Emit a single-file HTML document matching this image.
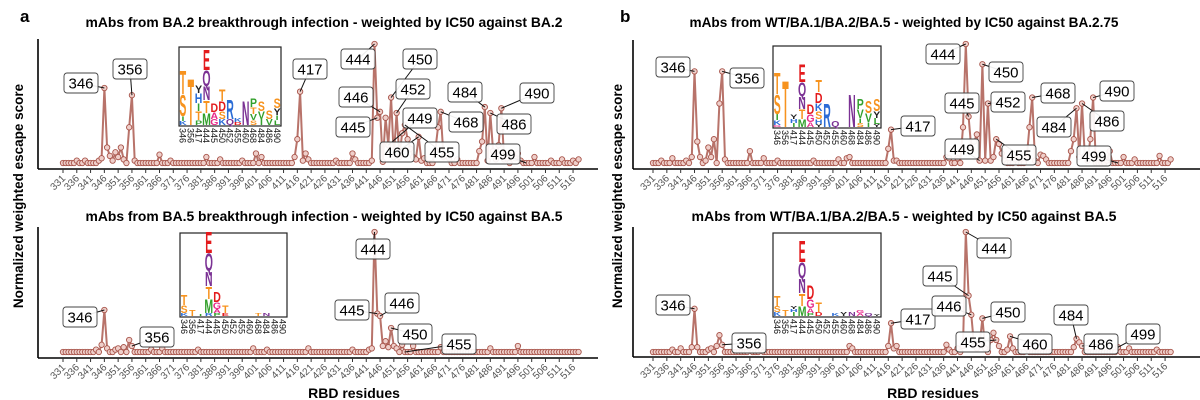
<!DOCTYPE html>
<html><head><meta charset="utf-8">
<style>
html,body{margin:0;padding:0;background:#fff;}
svg{display:block;font-family:"Liberation Sans",Arial,sans-serif;}
</style></head>
<body>
<svg id="fig" width="1200" height="400" viewBox="0 0 1200 400" xmlns="http://www.w3.org/2000/svg">
  <text x="20" y="22" font-size="17" font-weight="bold">a</text>
  <text x="620" y="22" font-size="17" font-weight="bold">b</text>
  <text x="324" y="27" font-size="13.5" font-weight="bold" text-anchor="middle" textLength="477" lengthAdjust="spacingAndGlyphs">mAbs from BA.2 breakthrough infection - weighted by IC50 against BA.2</text>
  <text x="324" y="221" font-size="13.5" font-weight="bold" text-anchor="middle" textLength="477" lengthAdjust="spacingAndGlyphs">mAbs from BA.5 breakthrough infection - weighted by IC50 against BA.5</text>
  <text x="904" y="27" font-size="13.5" font-weight="bold" text-anchor="middle" textLength="429" lengthAdjust="spacingAndGlyphs">mAbs from WT/BA.1/BA.2/BA.5 - weighted by IC50 against BA.2.75</text>
  <text x="904" y="221" font-size="13.5" font-weight="bold" text-anchor="middle" textLength="425" lengthAdjust="spacingAndGlyphs">mAbs from WT/BA.1/BA.2/BA.5 - weighted by IC50 against BA.5</text>
  <text transform="translate(23,196) rotate(-90)" font-size="13.5" font-weight="bold" text-anchor="middle">Normalized weighted escape score</text>
  <text transform="translate(622,196) rotate(-90)" font-size="13.5" font-weight="bold" text-anchor="middle">Normalized weighted escape score</text>
  <text x="354" y="398" font-size="14" font-weight="bold" text-anchor="middle">RBD residues</text>
  <text x="933" y="398" font-size="14" font-weight="bold" text-anchor="middle">RBD residues</text>
</svg>
<script>
// ---- data ----
const tickResidues = [];
for (let r = 331; r <= 516; r += 5) tickResidues.push(r);
const firstResidue = 331, lastResidue = 518;

const resA1 = [336,339,344,345,346,347,348,349,350,351,352,353,355,356,357,366,370,383,388,396,401,403,415,416,417,418,419,420,430,436,437,443,444,445,446,447,448,449,450,451,452,453,454,455,456,457,458,459,460,461,462,466,467,468,469,470,471,474,482,483,484,485,486,487,488,489,490,491,492,494,495,496,497,502,508,512,516,518];
const valA1 = [0.02,0.02,0.02,0.04,0.63,0.13,0.06,0.02,0.09,0.05,0.13,0.03,0.3,0.57,0.02,0.07,0.02,0.05,0.03,0.02,0.08,0.05,0.05,0.2,0.6,0.02,0.08,0.03,0.02,0.08,0.03,0.02,1.0,0.38,0.43,0.01,0.38,0.15,0.55,0.05,0.42,0.05,0.25,0.32,0.2,0.12,0.05,0.03,0.22,0.02,0.04,0.1,0.3,0.43,0.05,0.06,0.04,0.03,0.1,0.18,0.47,0.02,0.42,0.1,0.03,0.15,0.46,0.03,0.04,0.07,0.04,0.08,0.02,0.05,0.02,0.03,0.02,0.03];

const resA2 = [343,345,346,347,350,351,353,355,356,363,367,380,400,405,420,436,442,443,444,445,446,447,448,449,450,451,452,454,458,468,486,496];
const valA2 = [0.02,0.06,0.35,0.03,0.02,0.03,0.04,0.1,0.05,0.02,0.03,0.02,0.03,0.02,0.03,0.02,0.02,0.03,1.0,0.32,0.3,0.05,0.09,0.04,0.2,0.05,0.03,0.06,0.05,0.04,0.03,0.05];

const resB1 = [334,338,343,345,346,347,348,350,351,352,353,355,356,357,366,371,376,389,398,401,402,416,417,418,419,437,438,441,443,444,445,446,447,448,449,450,451,452,453,454,455,456,457,458,462,466,467,468,469,471,472,473,482,483,484,485,486,487,488,489,490,495,496,501,505,514,518];
const valB1 = [0.02,0.04,0.02,0.05,0.77,0.18,0.05,0.02,0.13,0.05,0.2,0.5,0.77,0.03,0.1,0.04,0.02,0.02,0.03,0.04,0.05,0.12,0.28,0.02,0.02,0.05,0.04,0.04,0.3,1.0,0.39,0.12,0.18,0.24,0.02,0.83,0.02,0.5,0.02,0.05,0.2,0.16,0.08,0.02,0.03,0.04,0.3,0.55,0.02,0.07,0.06,0.03,0.1,0.2,0.46,0.05,0.5,0.06,0.02,0.2,0.55,0.02,0.1,0.05,0.03,0.06,0.03];

const resB2 = [338,341,345,346,347,351,352,354,355,356,366,370,402,403,416,417,418,419,437,438,441,443,444,445,446,447,448,449,450,451,453,454,455,456,459,460,461,466,483,484,485,486,499,503,513];
const valB2 = [0.02,0.03,0.04,0.36,0.04,0.02,0.03,0.05,0.14,0.06,0.03,0.02,0.05,0.03,0.05,0.24,0.03,0.05,0.06,0.02,0.03,0.05,1.0,0.47,0.31,0.05,0.03,0.06,0.28,0.03,0.1,0.16,0.1,0.05,0.02,0.13,0.03,0.03,0.04,0.11,0.08,0.05,0.04,0.03,0.02];

// labelled residues
const labA1 = [346,356,417,444,450,452,446,445,449,468,484,490,486,460,455,499];
const labA2 = [346,356,444,445,446,450,455];
const labB1 = [346,356,417,444,450,445,452,449,468,490,484,486,455,499];
const labB2 = [346,356,417,444,445,446,450,455,460,484,486,499];

// logo inset columns (bottom -> top: letter, height px)
const logoTicks = ['346','356','417','444','445','450','452','455','460','468','484','486','490'];
const logoA1 = [[['K',4],['I',5],['S',22],['T',24]],[['T',48]],[['P',5],['T',9],['I',8],['H',10],['Y',8]],[['M',12],['T',13],['N',14],['Q',16],['E',21]],[['G',6],['A',7],['D',9]],[['K',6],['S',8],['D',10],['T',12]],[['Q',6],['R',20]],[['D',3],['K',4]],[['N',25]],[['S',5],['V',6],['T',7],['P',9]],[['I',6],['V',8],['S',10]],[['V',6],['S',9]],[['L',5],['I',5],['Y',7],['S',10]]];
const logoA2 = [[['K',3],['S',8],['T',11]],[['T',6]],[['I',2]],[['R',3],['M',14],['T',13],['N',15],['Q',18],['E',22]],[['P',3],['A',4],['G',7],['D',11]],[['E',3],['T',8]],[],[],[],[['T',3]],[['N',3]],[],[]];
const logoB1 = [[['G',2],['K',5],['I',6],['S',20],['T',22]],[['T',48]],[['I',4],['H',4],['Y',5]],[['M',8],['T',10],['N',13],['Q',14],['E',18]],[['A',5],['G',8],['D',10]],[['Y',3],['H',5],['S',8],['K',8],['D',11],['T',13]],[['R',24]],[['Q',6]],[],[['N',34]],[['S',4],['I',5],['V',9],['P',11]],[['I',5],['V',9],['S',13]],[['Y',3],['L',6],['Y',7],['S',13]]];
const logoB2 = [[['K',4],['S',6],['T',11]],[['T',6]],[['I',4],['H',3],['Y',3]],[['M',10],['T',13],['N',15],['Q',16],['E',22]],[['P',3],['A',5],['G',9],['D',14]],[['D',4],['T',10]],[],[['K',3]],[['Y',4]],[['N',4]],[['A',3],['G',3]],[['Q',3]],[['Y',2]]];

// ---- layout (not data) ----
const boxA1 = [[81,83],[130,69],[310,69],[358,59],[420,59],[413,89],[356,97],[353,127],[420,118],[466,122],[465,92],[537,93],[514,124],[397,152],[442,152],[503,154]];
const boxA2 = [[80,317],[157,337],[373,249],[352,310],[402,303],[415,334],[459,344]];
const boxB1 = [[673,67],[747,78],[918,126],[943,54],[1006,72],[962,103],[1008,102],[962,149],[1058,93],[1117,91],[1054,127],[1107,121],[1019,155],[1094,156]];
const boxB2 = [[673,305],[749,343],[918,319],[994,248],[940,276],[949,306],[1008,312],[973,342],[1035,344],[1071,315],[1101,344],[1143,334]];

const colorOf = {T:'#f7931e',S:'#f7931e',E:'#e31a1c',D:'#e31a1c',Q:'#7b3294',N:'#7b3294',K:'#2b6cd6',R:'#2b6cd6',H:'#2b6cd6',Y:'#222',M:'#33a02c',I:'#33a02c',V:'#33a02c',L:'#33a02c',P:'#33a02c',G:'#e7298a',A:'#e7298a',F:'#e7298a'};

const panels = [
  {key:'a-top', x0:63, step:2.757, base:163, scale:119, axisY:169, axisX:38, axisTop:39, axisRight:598, res:resA1, val:valA1, labs:labA1, boxes:boxA1, logo:logoA1, inset:[179,47,102,79]},
  {key:'a-bottom', x0:63, step:2.757, base:352, scale:120, axisY:358, axisX:38, axisTop:227, axisRight:598, res:resA2, val:valA2, labs:labA2, boxes:boxA2, logo:logoA2, inset:[180,233,107,84]},
  {key:'b-top', x0:653, step:2.768, base:163, scale:119, axisY:169, axisX:633, axisTop:40, axisRight:1200, res:resB1, val:valB1, labs:labB1, boxes:boxB1, logo:logoB1, inset:[773,46,108,82]},
  {key:'b-bottom', x0:653, step:2.768, base:352, scale:120, axisY:357, axisX:633, axisTop:227, axisRight:1200, res:resB2, val:valB2, labs:labB2, boxes:boxB2, logo:logoB2, inset:[773,233,108,84]}
];

const NS = 'http://www.w3.org/2000/svg';
const svg = document.getElementById('fig');
function mk(tag, attrs, parent){
  const e = document.createElementNS(NS, tag);
  for (const k in attrs) e.setAttribute(k, attrs[k]);
  (parent||svg).appendChild(e);
  return e;
}

panels.forEach(p => {
  const xs = r => p.x0 + (r - firstResidue) * p.step;
  const ys = v => p.base - v * p.scale;
  const valueAt = r => { const i = p.res.indexOf(r); return i >= 0 ? p.val[i] : 0; };

  const g = mk('g', {});
  
  

  const ya = mk('line', {x1:p.axisX, y1:p.axisTop, x2:p.axisX, y2:p.axisY, stroke:'#000', 'stroke-width':1.6}, g);
  
  
  const xa = mk('line', {x1:p.axisX, y1:p.axisY, x2:p.axisRight, y2:p.axisY, stroke:'#000', 'stroke-width':1.6}, g);
  
  

  tickResidues.forEach(r => {
    const tx = xs(r);
    const tk = mk('line', {x1:tx, y1:p.axisY, x2:tx, y2:p.axisY+4, stroke:'#333', 'stroke-width':1}, g);
    
    
    const tl = mk('text', {transform:'translate(' + (tx+3) + ',' + (p.axisY+10) + ') rotate(-45)', 'font-size':10, fill:'#555', 'text-anchor':'end'}, g);
    tl.textContent = r;
    
    
  });

  let d = '';
  for (let r = firstResidue; r <= lastResidue; r++) {
    d += (r === firstResidue ? 'M' : 'L') + xs(r).toFixed(1) + ',' + ys(valueAt(r)).toFixed(1);
  }
  const path = mk('path', {d:d, fill:'none', stroke:'#b0645a', 'stroke-width':2, 'stroke-linejoin':'round', opacity:0.9}, g);
  
  
  for (let r = firstResidue; r <= lastResidue; r++) {
    const c = mk('circle', {cx:xs(r), cy:ys(valueAt(r)), r:2.7, fill:'#efcfca', stroke:'#a8554b', 'stroke-width':0.9}, g);
    
    
  }

  const [bx, by, bw, bh] = p.inset;
  const ig = mk('g', {}, g);
  
  
  const fr = mk('rect', {x:bx, y:by, width:bw, height:bh, fill:'#fff', stroke:'#222', 'stroke-width':1.2}, ig);
  
  
  const cw = bw / logoTicks.length;
  p.logo.forEach((col, i) => {
    const cx = bx + cw * (i + 0.5);
    let yb = by + bh - 1;
    col.forEach(([ch, h]) => {
      const t = mk('text', {transform:'translate(' + cx.toFixed(1) + ',' + yb.toFixed(1) + ') scale(1.05,' + (h/7.3).toFixed(3) + ')', 'font-size':10, 'font-weight':'bold', 'text-anchor':'middle', fill:colorOf[ch] || '#333'}, ig);
      t.textContent = ch;
      
      
      yb -= h;
    });
    const lt = mk('text', {transform:'translate(' + (cx-3.3).toFixed(1) + ',' + (by+bh+2) + ') rotate(90)', 'font-size':9, fill:'#111'}, ig);
    lt.textContent = logoTicks[i];
    
    
  });

  p.labs.forEach((r, i) => {
    const [cx, cy] = p.boxes[i];
    const lg = mk('g', {}, g);
    
    
    const ln = mk('line', {x1:cx, y1:cy, x2:xs(r), y2:ys(valueAt(r)), stroke:'#111', 'stroke-width':1}, lg);
    
    
    const rc = mk('rect', {x:cx-17, y:cy-10, width:34, height:20, rx:3, fill:'#fff', 'fill-opacity':0.92, stroke:'#444', 'stroke-width':0.9}, lg);
    
    
    const tx = mk('text', {x:cx, y:cy+5.5, 'font-size':15, 'text-anchor':'middle', fill:'#000'}, lg);
    tx.textContent = r;
    
    
  });
});
</script>
</body></html>
